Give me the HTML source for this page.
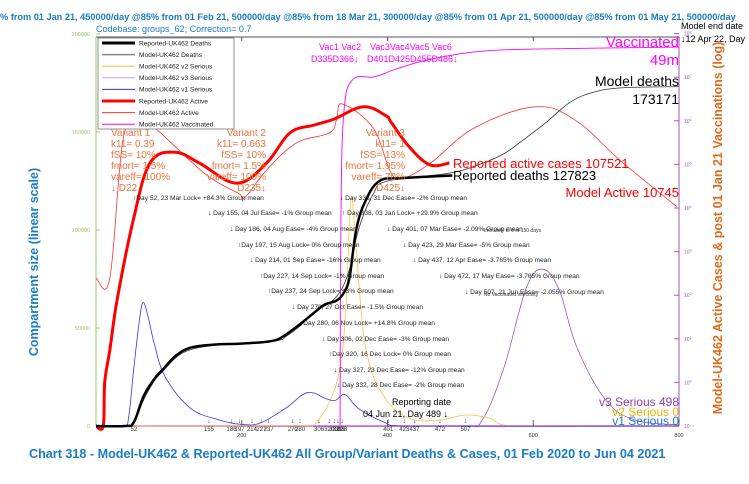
<!DOCTYPE html>
<html><head><meta charset="utf-8"><style>
body{margin:0;background:#fff;width:749px;height:479px;overflow:hidden}
svg{font-family:"Liberation Sans",sans-serif}
</style></head><body>
<svg id="c" width="749" height="479" viewBox="0 0 749 479">
<text x="0" y="20" font-size="9.2" font-weight="bold" fill="#1a7cc4">% from 01 Jan 21, 450000/day @85% from 01 Feb 21, 500000/day @85% from 18 Mar 21, 300000/day @85% from 01 Apr 21, 500000/day @85% from 01 May 21, 500000/day</text>
<text x="96" y="32" font-size="9" fill="#1a7cc4">Codebase: groups_62; Correction= 0.7</text>
<text transform="translate(38,262) rotate(-90)" text-anchor="middle" font-size="12.5" font-weight="bold" fill="#1a7cc4">Compartment size (linear scale)</text>
<text transform="translate(722,228) rotate(-90)" text-anchor="middle" font-size="12.5" font-weight="bold" fill="#e06a1b">Model-UK462 Active Cases &amp; post 01 Jan 21 Vaccinations (log)</text>
<text x="29" y="458" font-size="12.6" font-weight="bold" fill="#1a7cc4">Chart 318 - Model-UK462 &amp; Reported-UK462 All Group/Variant Deaths &amp; Cases, 01 Feb 2020 to Jun 04 2021</text>
<g id="axes"></g>
<g id="series"></g>
<g id="notes" font-size="6.6" fill="#222"></g>
<g font-size="10" fill="#e8743b">
<text x="111" y="136">Variant 1</text><text x="111" y="147">k11= 0.39</text><text x="111" y="158">fSS= 10%</text><text x="111" y="169">fmort= 1.5%</text><text x="111" y="180">vareff= 100%</text><text x="111" y="191">↓ D22</text>
<g text-anchor="end"><text x="266" y="136">Variant 2</text><text x="266" y="147">k11= 0.663</text><text x="266" y="158">fSS= 10%</text><text x="266" y="169">fmort= 1.5%</text><text x="266" y="180">vareff= 100%</text><text x="266" y="191">D235↓</text>
<text x="405" y="136">Variant 3</text><text x="405" y="147">k11= 1</text><text x="405" y="158">fSS= 13%</text><text x="405" y="169">fmort= 1.95%</text><text x="405" y="180">vareff= 70%</text><text x="405" y="191">D425↓</text></g>
</g>
<g>
<text x="453" y="168" font-size="13" fill="#f00">Reported active cases 107521</text>
<text x="453" y="180" font-size="13" fill="#000">Reported deaths 127823</text>
<text x="679" y="197" font-size="13" fill="#f00" text-anchor="end">Model Active 10745</text>
<text x="679" y="86" font-size="14" fill="#000" text-anchor="end">Model deaths</text>
<text x="679" y="104" font-size="14" fill="#000" text-anchor="end">173171</text>
<text x="679" y="47" font-size="15" fill="#f0f" text-anchor="end">Vaccinated</text>
<text x="679" y="65" font-size="15" fill="#f0f" text-anchor="end">49m</text>
<text x="681" y="29" font-size="9" fill="#000">Model end date</text>
<text x="681" y="42" font-size="9" fill="#000">↓12 Apr 22, Day</text>
<text x="319" y="50" font-size="9" fill="#f0f">Vac1 Vac2</text>
<text x="370" y="50" font-size="9" fill="#f0f">Vac3Vac4Vac5 Vac6</text>
<text x="311" y="62" font-size="9" fill="#f0f">D335D366↓</text>
<text x="367" y="62" font-size="9" fill="#f0f">D401D425D455D486↓</text>
<text x="679" y="406" font-size="12" fill="#8e44ad" text-anchor="end">v3 Serious 498</text>
<text x="679" y="416" font-size="12" fill="#f0b400" text-anchor="end">v2 Serious 0</text>
<text x="679" y="425" font-size="12" fill="#1a7cc4" text-anchor="end">v1 Serious 0</text>
<text x="392" y="405" font-size="9" fill="#000">Reporting date</text>
<text x="363" y="417" font-size="9" fill="#000">04 Jun 21, Day 489 ↓</text>
<text x="484" y="232" font-size="5" fill="#333">Immunity to 0 in 150 days</text>
<text x="484" y="296" font-size="5" fill="#333">No Vaccinated infectivity</text>
</g>
<g id="legend"></g>
</svg>
<script>
// ---- data (day, value) ----
const reportedDeathsDays=[0,40,52,65,80,92,110,130,160,196,230,248,262,280,300,314,330,340,348,357,370,389,420,489];
const reportedDeathsVals=[0,0,2000,15000,24000,29000,36000,40000,41500,42000,42800,44000,47000,52000,58000,62000,64000,68000,76000,100000,115000,125000,126500,127823];
const modelDeathsDays=[0,40,52,65,80,92,110,130,160,196,248,262,280,300,330,348,360,380,400,485,530,560,590,618,650,680,720,800];
const modelDeathsVals=[0,0,1500,13000,23000,28000,35000,39000,41000,42000,43500,46000,51000,58000,66000,80000,100000,118000,125000,129000,134000,139000,147000,155000,165000,170000,172500,173171];
const activeRepDays=[0,10,12,19,29,51,74,108,142,193,234,266,300,327,367,398,405,430,458,485];
const activeRepVals=[0.1,0.1,1,5.5,78,5200,107000,190000,107000,37000,107000,525000,800000,1100000,2100000,1300000,930000,250000,98000,107521];
const activeModDays=[0,19,37,59,84,150,195,205,234,275,320,330,337,380,405,423,460,520,603,659,720,797];
const activeModVals=[245,245,363000,1230000,620000,60000,22000,18000,74000,310000,525000,1050000,2450000,700000,63000,49000,110000,700000,2100000,1000000,120000,10745];
const vaccDays=[335,336,340,352,380,395,410,455,520,600,800];
const vaccVals=[0.1,5000,1500000,8700000,10000000,12000000,15000000,25000000,38000000,44000000,49000000];
const v1Days=[0,38,45,52,60,65,72,80,95,130,170,200,225,260,290,315,328,342,360,395,420,800];
const v1Vals=[0,0,5000,30000,55000,63000,55000,42000,25000,9000,3000,800,1500,9000,17000,14000,13000,16000,9000,2000,0,0];
const v2Days=[0,285,300,320,335,343,350,357,370,395,430,470,507,540,574,800];
const v2Vals=[0,0,1000,12000,30000,61000,116000,90000,40000,15000,4000,3000,5600,4000,0,0];
const v3Days=[0,505,530,560,590,612,635,660,700,740,800];
const v3Vals=[0,0,3000,30000,70000,80000,70000,40000,13000,3000,500];
const xTicks=[200,400,600,800];
const yTicks=[0,50000,100000,150000,200000];
const logTicks=[-1,0,1,2,3,4,5,6,7,8];
const eventDays=[52,155,186,197,214,227,237,270,280,306,320,327,332,335,338,401,423,437,472,507];
const notes=[
["↑Day 52, 23 Mar Lock= +84.3% Group mean",133,200],["↓ Day 155, 04 Jul Ease= -1% Group mean",208,215],
["↓ Day 186, 04 Aug Ease= -4% Group mean",230,231],["↑Day 197, 15 Aug Lock= 0% Group mean",238,247],
["↓ Day 214, 01 Sep Ease= -16% Group mean",250,262],["↑Day 227, 14 Sep Lock= -1% Group mean",260,278],
["↑Day 237, 24 Sep Lock= +3% Group mean",268,293],["↓ Day 270, 27 Oct Ease= -1.5% Group mean",292,309],
["↑Day 280, 06 Nov Lock= +14.8% Group mean",300,325],["↓ Day 306, 02 Dec Ease= -3% Group mean",322,341],
["↑Day 320, 16 Dec Lock= 0% Group mean",329,356],["↓ Day 327, 23 Dec Ease= -12% Group mean",334,372],
["↓ Day 332, 28 Dec Ease= -2% Group mean",337,387],["↓ Day 335, 31 Dec Ease= -2% Group mean",340,200],
["↑ Day 338, 03 Jan Lock= +29.9% Group mean",342,215],["↓ Day 401, 07 Mar Ease= -2.09% Group mean",387,231],
["↓ Day 423, 29 Mar Ease= -5% Group mean",403,247],["↓ Day 437, 12 Apr Ease= -3.765% Group mean",413,262],
["↓ Day 472, 17 May Ease= -3.765% Group mean",439,278],["↓ Day 507, 21 Jun Ease= -2.055% Group mean",465,294]];
// ---- scales ----
const X0=96,X1=679,Y0=426,YT=34;
function xs(d){return X0+d*(X1-X0)/800;}
function yl(v){return Y0-v*(Y0-YT)/200000;}
function ylog(v){return Y0-(Math.log10(v)+1)*43.6;}
const NS='http://www.w3.org/2000/svg';
function mk(t,a,p){const e=document.createElementNS(NS,t);for(const k in a)e.setAttribute(k,a[k]);p.appendChild(e);return e;}
const ax=document.getElementById('axes'),se=document.getElementById('series'),no=document.getElementById('notes'),lg=document.getElementById('legend');
let fr=mk('line',{x1:X0,y1:37,x2:X1,y2:37,stroke:'#555','stroke-width':1},ax);


let la=mk('line',{x1:X0,y1:37,x2:X0,y2:Y0,stroke:'#9c6','stroke-width':1},ax);


let ra=mk('line',{x1:X1,y1:37,x2:X1,y2:Y0,stroke:'#9b59b6','stroke-width':1},ax);


let xa=mk('line',{x1:X0,y1:Y0,x2:X1,y2:Y0,stroke:'#e6e','stroke-width':1.5},ax);


yTicks.forEach(v=>{const y=yl(v);
 mk('line',{x1:X0,y1:y,x2:X0+4,y2:y,stroke:'#9c6'},ax);
 const t=mk('text',{x:X0-6,y:y+2,'font-size':5.5,fill:'#9c6','text-anchor':'end'},ax);t.textContent=v;
 
 });
logTicks.forEach(p=>{const y=ylog(Math.pow(10,p));
 mk('line',{x1:X1-5,y1:y,x2:X1,y2:y,stroke:'#9b59b6'},ax);
 const t=mk('text',{x:X1+5,y:y+2,'font-size':5,fill:'#9b59b6'},ax);t.textContent='10'+(p<0?'⁻¹':'');
 
 
 if(p>=0){const s=mk('tspan',{'font-size':3.5,dy:-2},t);s.textContent=p;}});
xTicks.forEach(d=>{const x=xs(d);
 mk('line',{x1:x,y1:37,x2:x,y2:41,stroke:'#555'},ax);
 mk('line',{x1:x,y1:Y0,x2:x,y2:Y0-6,stroke:'#555'},ax);
 const t=mk('text',{x:x,y:437,'font-size':5.5,fill:'#333','text-anchor':'middle'},ax);t.textContent=d;
 
 });
eventDays.forEach(d=>{const x=xs(d);
 const t=mk('text',{x:x,y:431,'font-size':6,fill:'#333','text-anchor':'middle'},ax);t.textContent=d;
 
 
 const a=mk('text',{x:x,y:423,'font-size':7,fill:'#333','text-anchor':'middle'},ax);a.textContent='↓';});
function smoothPath(P){
 let d='M'+P[0][0].toFixed(1)+','+P[0][1].toFixed(1);
 for(let i=0;i<P.length-1;i++){
  const p0=P[Math.max(0,i-1)],p1=P[i],p2=P[i+1],p3=P[Math.min(P.length-1,i+2)];
  const t=0.18;
  let c1=[p1[0]+(p2[0]-p0[0])*t,p1[1]+(p2[1]-p0[1])*t];
  let c2=[p2[0]-(p3[0]-p1[0])*t,p2[1]-(p3[1]-p1[1])*t];
  c1[0]=Math.min(Math.max(c1[0],p1[0]),p2[0]);c2[0]=Math.min(Math.max(c2[0],p1[0]),p2[0]);
  d+=' C'+c1[0].toFixed(1)+','+c1[1].toFixed(1)+' '+c2[0].toFixed(1)+','+c2[1].toFixed(1)+' '+p2[0].toFixed(1)+','+p2[1].toFixed(1);
 }
 return d;}
function line(days,vals,f,col,w,name){
 const P=days.map((d,i)=>[xs(d),f(vals[i])]);
 const p=mk('path',{d:smoothPath(P),fill:'none',stroke:col,'stroke-width':w,'stroke-linejoin':'round'},se);
 
 }
line(v3Days,v3Vals,yl,'#9b59b6',0.8,'v3-serious-line');
line(v2Days,v2Vals,yl,'#f5c242',0.8,'v2-serious-line');
line(v1Days,v1Vals,yl,'#3333ee',0.8,'v1-serious-line');
line(vaccDays,vaccVals,ylog,'#f0f',0.9,'vaccinated-line');
line(activeModDays,activeModVals,ylog,'#f33',0.8,'model-active-line');
line(modelDeathsDays,modelDeathsVals,yl,'#333',0.8,'model-deaths-line');
line(activeRepDays,activeRepVals,ylog,'#f00',3,'reported-active-line');
line(reportedDeathsDays,reportedDeathsVals,yl,'#000',2.5,'reported-deaths-line');
notes.forEach(n=>{const t=mk('text',{x:n[1],y:n[2]},no);t.textContent=n[0];
 
 });
mk('rect',{x:98,y:38,width:136,height:91,fill:'#fff',stroke:'#777','stroke-width':0.8},lg);
const legNames=['Reported-UK462 Deaths','Model-UK462 Deaths','Model-UK462 v2 Serious','Model-UK462 v3 Serious','Model-UK462 v1 Serious','Reported-UK462 Active','Model-UK462 Active','Model-UK462 Vaccinated'];
const legCols=['#000','#888','#f5c242','#c9a0dc','#3333ee','#f00','#f33','#f0f'];
const legW=[3,1.5,1,1,1,3,1,1];
legNames.forEach((n,i)=>{const y=43+i*11.6;
 const l=mk('line',{x1:102,y1:y,x2:135,y2:y,stroke:legCols[i],'stroke-width':legW[i]},lg);
 
 
 const t=mk('text',{x:139,y:y+2.3,'font-size':6.6,fill:'#222'},lg);t.textContent=n;
 
 });
</script>
</body></html>
